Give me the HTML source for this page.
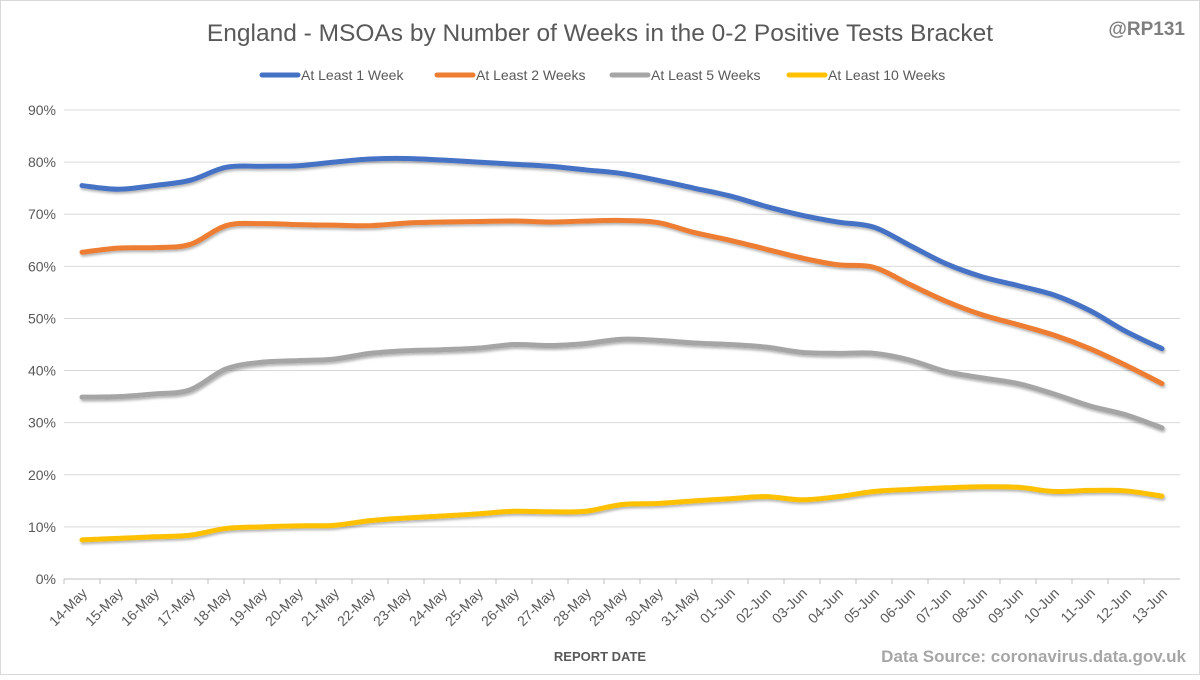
<!DOCTYPE html>
<html><head><meta charset="utf-8"><style>
body{margin:0;background:#fff;font-family:"Liberation Sans",sans-serif}
svg text{font-family:"Liberation Sans",sans-serif}
</style></head><body>
<svg id="c" width="1200" height="675" viewBox="0 0 1200 675">
<defs><filter id="sh" x="-5%" y="-20%" width="110%" height="140%"><feDropShadow dx="1" dy="2" stdDeviation="1.2" flood-color="#000" flood-opacity="0.3"/></filter></defs>
<rect x="0.5" y="0.5" width="1199" height="674" fill="#fff" stroke="#d9d9d9"/>
<text x="600" y="41" text-anchor="middle" font-size="24.5" fill="#595959">England - MSOAs by Number of Weeks in the 0-2 Positive Tests Bracket</text>
<text x="1185" y="35" text-anchor="end" font-size="19" font-weight="bold" fill="#7f7f7f">@RP131</text>
<text x="600" y="661" text-anchor="middle" font-size="13" font-weight="bold" fill="#595959">REPORT DATE</text>
<text x="1186" y="662" text-anchor="end" font-size="17" font-weight="bold" fill="#a6a6a6">Data Source: coronavirus.data.gov.uk</text>
<g id="grid"></g><g id="xl"></g><g id="lines"></g><g id="legend"></g>
</svg>
<script>
const categories=["14-May","15-May","16-May","17-May","18-May","19-May","20-May","21-May","22-May","23-May","24-May","25-May","26-May","27-May","28-May","29-May","30-May","31-May","01-Jun","02-Jun","03-Jun","04-Jun","05-Jun","06-Jun","07-Jun","08-Jun","09-Jun","10-Jun","11-Jun","12-Jun","13-Jun"];
const week1=[75.5,74.8,75.5,76.5,79,79.2,79.3,80,80.6,80.7,80.4,80,79.6,79.2,78.5,77.8,76.5,75,73.5,71.5,69.8,68.5,67.5,64,60.5,58,56.3,54.5,51.5,47.5,44.2];
const week2=[62.7,63.5,63.6,64.2,67.8,68.2,68,67.9,67.8,68.3,68.5,68.6,68.7,68.5,68.7,68.8,68.4,66.5,65,63.3,61.6,60.3,59.8,56.5,53.3,50.7,48.8,46.8,44.2,41,37.5];
const week5=[34.9,35,35.5,36.3,40.3,41.6,41.9,42.2,43.3,43.8,44,44.3,45,44.8,45.2,46,45.8,45.3,45,44.5,43.5,43.3,43.3,42,39.8,38.6,37.5,35.5,33.2,31.5,29];
const week10=[7.5,7.8,8.1,8.4,9.7,10,10.2,10.3,11.2,11.7,12.1,12.5,13,12.9,13,14.3,14.5,15,15.4,15.8,15.2,15.8,16.8,17.2,17.5,17.7,17.6,16.8,17,16.9,15.9];
const yTicks=[0,10,20,30,40,50,60,70,80,90];
const seriesNames=["At Least 1 Week","At Least 2 Weeks","At Least 5 Weeks","At Least 10 Weeks"];
const colors=["#4472c4","#ed7d31","#a5a5a5","#ffc000"];
const ns="http://www.w3.org/2000/svg";
const X0=64,X1=1180,Y0=579,Y1=110;
const step=(X1-X0)/categories.length;
const x=i=>X0+step*(i+0.5);
const y=v=>Y0-(v/90)*(Y0-Y1);
function mk(t,a,p){const e=document.createElementNS(ns,t);for(const k in a)e.setAttribute(k,a[k]);p.appendChild(e);return e;}
const grid=document.getElementById('grid');
yTicks.forEach(t=>{
  const l=mk('line',{x1:X0,x2:X1,y1:y(t),y2:y(t),stroke:t===0?'#bfbfbf':'#d9d9d9'},grid);
  
  
  const tx=mk('text',{x:X0-8,y:y(t)+5,'text-anchor':'end','font-size':'14',fill:'#595959'},grid);
  tx.textContent=t+'%';
  
  
});
const xl=document.getElementById('xl');
categories.forEach((c,i)=>{
  const tk=mk('line',{x1:X0+step*i,x2:X0+step*i,y1:Y0,y2:Y0+5,stroke:'#bfbfbf'},xl);
  
  
  const t=mk('text',{x:x(i)+6,y:Y0+15,'text-anchor':'end','font-size':'14',fill:'#595959',transform:`rotate(-45 ${x(i)+6} ${Y0+15})`},xl);
  t.textContent=c;
  
  
});
function smooth(p){let d=`M${p[0][0]},${p[0][1]}`;for(let i=0;i<p.length-1;i++){const a=p[i-1]||p[i],b=p[i],c=p[i+1],e=p[i+2]||c;const t=0.17;d+=` C${b[0]+(c[0]-a[0])*t},${b[1]+(c[1]-a[1])*t} ${c[0]-(e[0]-b[0])*t},${c[1]-(e[1]-b[1])*t} ${c[0]},${c[1]}`;}return d;}
const lines=document.getElementById('lines');
[week1,week2,week5,week10].forEach((s,k)=>{
  const pts=s.map((v,i)=>[x(i),y(v)]);
  const p=mk('path',{d:smooth(pts),fill:'none',stroke:colors[k],'stroke-width':'5','stroke-linecap':'round',filter:'url(#sh)'},lines);
  
  
});
const lg=document.getElementById('legend');
const lx=[262,437,612,789];
seriesNames.forEach((n,k)=>{
  const g=mk('g',{},lg);
  
  
  mk('line',{x1:lx[k],x2:lx[k]+36,y1:75,y2:75,stroke:colors[k],'stroke-width':'5','stroke-linecap':'round'},g);
  const t=mk('text',{x:lx[k]+39,y:80,'font-size':'14',fill:'#595959'},g);
  t.textContent=n;
});
</script>
</body></html>
